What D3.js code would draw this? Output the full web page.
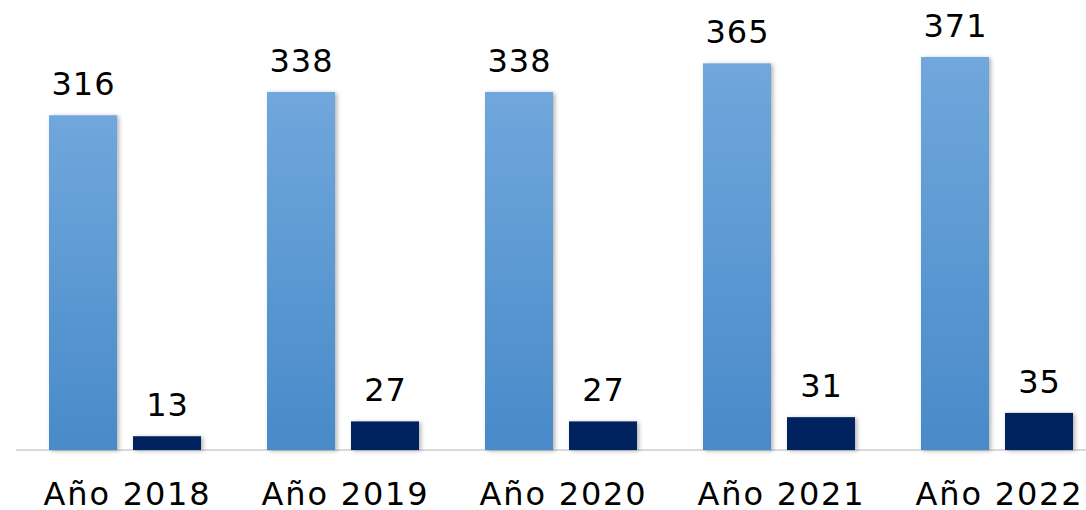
<!DOCTYPE html>
<html><head><meta charset="utf-8">
<script src="https://cdn.jsdelivr.net/npm/d3@7/dist/d3.min.js"></script>
<style>html,body{margin:0;padding:0;background:#fff;overflow:hidden}</style>
</head><body>
<svg id="c" width="1086" height="510"></svg>
<script>
const categories = ["Año 2018","Año 2019","Año 2020","Año 2021","Año 2022"];
const seriesA = [316, 338, 338, 365, 371];
const seriesB = [13, 27, 27, 31, 35];
const seriesKeys = ["A","B"];

const svg = d3.select("#c");
const defs = svg.append("defs");
const grad = defs.append("linearGradient").attr("id","gA").attr("x1",0).attr("y1",0).attr("x2",0).attr("y2",1);
grad.append("stop").attr("offset","0%").attr("stop-color","#70a7dc");
grad.append("stop").attr("offset","100%").attr("stop-color","#488ac9");
const f = defs.append("filter").attr("id","sh").attr("x","-20%").attr("y","-20%").attr("width","150%").attr("height","150%");
f.append("feDropShadow").attr("dx",2).attr("dy",1).attr("stdDeviation",2).attr("flood-color","#000").attr("flood-opacity",0.3);

const baseY = 450;
const x0 = d3.scaleBand().domain(categories).range([16, 16 + 218*5]).paddingInner(0).paddingOuter(0);
const x1 = d3.scaleBand().domain(seriesKeys).range([0, 152]).paddingInner(16/84).paddingOuter(0);
const y = d3.scaleLinear().domain([0, 371]).range([baseY, 57]);

const font = "'DejaVu Sans', Lato, sans-serif";

svg.append("line").attr("x1",16).attr("x2",1106).attr("y1",baseY).attr("y2",baseY)
  .attr("stroke","#d9d9d9").attr("stroke-width",2);

const data = categories.map((c,i)=>({c, A: seriesA[i], B: seriesB[i]}));
const g = svg.append("g");
data.forEach(d=>{
  const gx = x0(d.c) + (x0.bandwidth()-152)/2;
  seriesKeys.forEach(k=>{
    const v = d[k];
    const bx = gx + x1(k);
    g.append("rect").attr("x",bx).attr("y",y(v)).attr("width",x1.bandwidth()).attr("height",baseY - y(v))
      .attr("fill", k==="A" ? "url(#gA)" : "#00205f").attr("filter","url(#sh)");
    g.append("text").attr("x",bx + x1.bandwidth()/2 + 0.5).attr("y",y(v)-20)
      .attr("text-anchor","middle").attr("font-family",font).attr("font-size",32)
      .attr("letter-spacing",1).attr("fill","#000").text(v);
  });
  svg.append("text").attr("x", x0(d.c)+x0.bandwidth()/2 + 2.5).attr("y",505)
    .attr("text-anchor","middle").attr("font-family",font).attr("font-size",32)
    .attr("letter-spacing",1.8).attr("fill","#000").text(d.c);
});
</script>
</body></html>
